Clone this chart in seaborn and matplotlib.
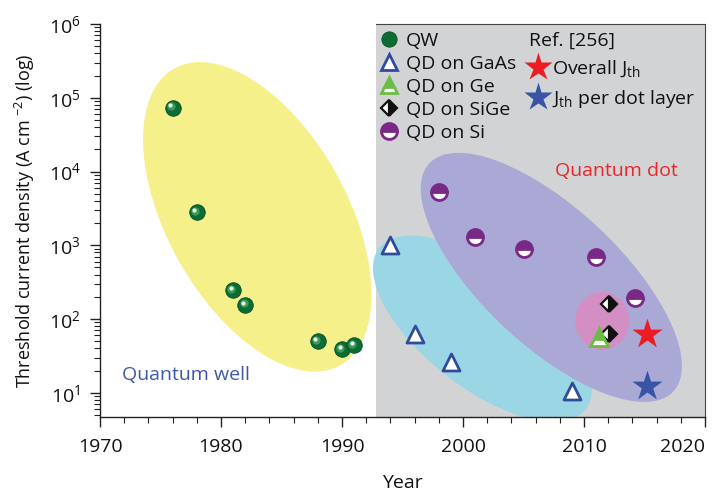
import matplotlib
matplotlib.use('Agg')
import matplotlib.pyplot as plt
import matplotlib.ticker as mticker
from matplotlib import transforms
from matplotlib.patches import Ellipse
from matplotlib.lines import Line2D
import seaborn as sns

# --
# Data

qw_year = [1976, 1978, 1981, 1982, 1988, 1990, 1991]
qw_j = [7.3e4, 2.8e3, 245, 155, 50, 39, 44]

gaas_year = [1994, 1996, 1999, 2009]
gaas_j = [1000, 62, 26, 10.5]

ge_year = [2011.2]
ge_j = [57]

sige_year = [2012.1, 2012.1]
sige_j = [160, 63]

si_year = [1998, 2001, 2005, 2011, 2014.2]
si_j = [5200, 1280, 880, 700, 190]

overall_year = [2015.2]
overall_j = [62]
perlayer_year = [2015.2]
perlayer_j = [12.5]

year_ticks = [1970, 1980, 1990, 2000, 2010, 2020]
qd_start = 1992.8

# shaded groups: centre (year, J), width / height in pixels, angle
blobs = [
    (1983.0, 2430, 340, 180, -60.8, '#f6f08a'),
    (2001.6, 74, 262, 118, -38.0, '#9bd6e4'),
    (2007.3, 367, 334, 137, -43.1, '#aaa9d6'),
    (2011.5, 94.6, 54, 58, 0, '#d38fc4'),
]

# --
# Style

sns.set_style('ticks')
plt.rcParams['font.family'] = ['Open Sans', 'DejaVu Sans']
plt.rcParams['mathtext.fontset'] = 'custom'
plt.rcParams['mathtext.rm'] = 'Open Sans'
plt.rcParams['mathtext.it'] = 'Open Sans:italic'
plt.rcParams['mathtext.bf'] = 'Open Sans:bold'
for k in ['text.color', 'axes.labelcolor', 'xtick.color', 'ytick.color']:
    plt.rcParams[k] = '#111111'

green = '#0b6d34'
purple = '#7a2886'
blue_tri = '#2f4b9b'
green_ge = '#6cbd45'
red = '#ec1c24'
blue_star = '#3954a5'

fig = plt.figure(figsize=(7.19, 5.0), dpi=100)
W, H = 605, 393
ax = fig.add_axes([100 / 719, 83 / 500, W / 719, H / 500])

ax.set_yscale('log')
ax.set_xlim(1970, 2020)
ax.set_ylim(4.7, 1e6)

ax.axvspan(qd_start, 2020, color='#d1d3d4', lw=0, zorder=0)

# --
# Blobs drawn in pixel space so they stay true ellipses on log axes

pix = transforms.Affine2D().scale(1 / W, 1 / H) + ax.transAxes
for yr, jj, w, h, ang, col in blobs:
    fx, fy = ax.transAxes.inverted().transform(ax.transData.transform((yr, jj)))
    e = Ellipse((fx * W, fy * H), w, h, angle=ang, transform=pix,
                facecolor=col, edgecolor='none', zorder=1)
    ax.add_patch(e)

# --
# Points

sns.scatterplot(x=qw_year, y=qw_j, s=125, color=green, edgecolor='#075028',
                linewidth=0.6, zorder=5, ax=ax)
shift = transforms.ScaledTranslation(-1.2 / 72, 1.2 / 72, fig.dpi_scale_trans)
ax.scatter(qw_year, qw_j, s=35, color='#3c9a58', lw=0, zorder=6,
           transform=ax.transData + shift)
shift2 = transforms.ScaledTranslation(-1.8 / 72, 1.8 / 72, fig.dpi_scale_trans)
ax.scatter(qw_year, qw_j, s=9, color='#e8f6ea', lw=0, zorder=7,
           transform=ax.transData + shift2)

sns.scatterplot(x=gaas_year, y=gaas_j, marker='^', s=150, color='white',
                edgecolor=blue_tri, linewidth=2, zorder=5, ax=ax)

sns.lineplot(x=si_year, y=si_j, estimator=None, sort=False, marker='o',
             linestyle='', ms=11.5, mfc=purple, mfcalt='white', mec=purple,
             mew=2, fillstyle='top', zorder=5, ax=ax)

sns.lineplot(x=sige_year, y=sige_j, estimator=None, sort=False, marker='D',
             linestyle='', ms=8.5, mfc='#111111', mfcalt='white', mec='#111111',
             mew=1.6, fillstyle='right', zorder=5, ax=ax)

sns.lineplot(x=ge_year, y=ge_j, estimator=None, sort=False, marker='^',
             linestyle='', ms=13, mfc=green_ge, mfcalt='white', mec=green_ge,
             mew=2, fillstyle='top', zorder=6, ax=ax)

sns.scatterplot(x=overall_year, y=overall_j, marker='*', s=520, color=red,
                linewidth=0, zorder=5, ax=ax)
sns.scatterplot(x=perlayer_year, y=perlayer_j, marker='*', s=520, color=blue_star,
                linewidth=0, zorder=5, ax=ax)

# --
# Labels

ax.text(1971.8, 17.5, 'Quantum well', color='#3f58a8', fontsize=14,
        ha='left', va='center', zorder=8)
ax.text(2007.6, 1.02e4, 'Quantum dot', color='#e8262b', fontsize=14,
        ha='left', va='center', zorder=8)

# --
# Legends

h_qw = Line2D([], [], marker='o', ls='', ms=11, mfc=green, mec='#075028', mew=0.6)
h_gaas = Line2D([], [], marker='^', ls='', ms=12, mfc='white', mec=blue_tri, mew=2)
h_ge = Line2D([], [], marker='^', ls='', ms=12, mfc=green_ge, mfcalt='white',
              mec=green_ge, mew=2, fillstyle='top')
h_sige = Line2D([], [], marker='D', ls='', ms=8.5, mfc='#111111', mfcalt='white',
                mec='#111111', mew=1.6, fillstyle='right')
h_si = Line2D([], [], marker='o', ls='', ms=11.5, mfc=purple, mfcalt='white',
              mec=purple, mew=2, fillstyle='top')

leg1 = ax.legend([h_qw, h_gaas, h_ge, h_sige, h_si],
                 ['QW', 'QD on GaAs', 'QD on Ge', 'QD on SiGe', 'QD on Si'],
                 loc='upper left', bbox_to_anchor=(0.456, 0.99), frameon=False,
                 fontsize=14, handlelength=1.0, handletextpad=0.35,
                 labelspacing=0.26, borderaxespad=0, borderpad=0.2)
ax.add_artist(leg1)

h_over = Line2D([], [], marker='*', ls='', ms=21, mfc=red, mec='none')
h_per = Line2D([], [], marker='*', ls='', ms=21, mfc=blue_star, mec='none')
leg2 = ax.legend([h_over, h_per], [r'Overall J$_{\rm th}$', r'J$_{\rm th}$ per dot layer'],
                 title='Ref. [256]', title_fontsize=14, alignment='left',
                 loc='upper left', bbox_to_anchor=(0.702, 0.99), frameon=False,
                 fontsize=14, handlelength=1.0, handletextpad=0.2,
                 labelspacing=0.45, borderaxespad=0, borderpad=0.2)
leg2.set_zorder(9)

# --
# Axes cosmetics

ax.set_xlabel('Year', fontsize=14, labelpad=13)
ax.set_ylabel(r'Threshold current density (A cm $^{-2}$) (log)', fontsize=13, labelpad=8)

ax.set_xticks(year_ticks)
ax.set_xticklabels([str(y) for y in year_ticks])
ax.xaxis.set_minor_locator(mticker.MultipleLocator(2))
ax.yaxis.set_major_locator(mticker.LogLocator(base=10, numticks=10))
ax.yaxis.set_minor_locator(mticker.LogLocator(base=10, subs=range(2, 10), numticks=20))
ax.yaxis.set_minor_formatter(mticker.NullFormatter())

ax.tick_params(which='major', direction='out', length=7, width=1, color='#222222')
ax.tick_params(which='minor', direction='out', length=4, width=0.8, color='#222222')
ax.tick_params(axis='x', which='major', labelsize=14, pad=8)
ax.tick_params(axis='y', which='major', labelsize=14, pad=7)

# last year label sits against the figure edge, keep it inside
ax.get_xticklabels()[-1].set_horizontalalignment('right')
ax.get_xticklabels()[-1].set_x(2020.6)

for s in ['left', 'bottom']:
    ax.spines[s].set_color('#222222')
    ax.spines[s].set_linewidth(1)
ax.spines['right'].set_color('#444444')
ax.spines['top'].set_color('#444444')
ax.spines['top'].set_bounds(qd_start, 2020)
for s in ax.spines.values():
    s.set_zorder(10)

fig.savefig('out.png', dpi=100)
